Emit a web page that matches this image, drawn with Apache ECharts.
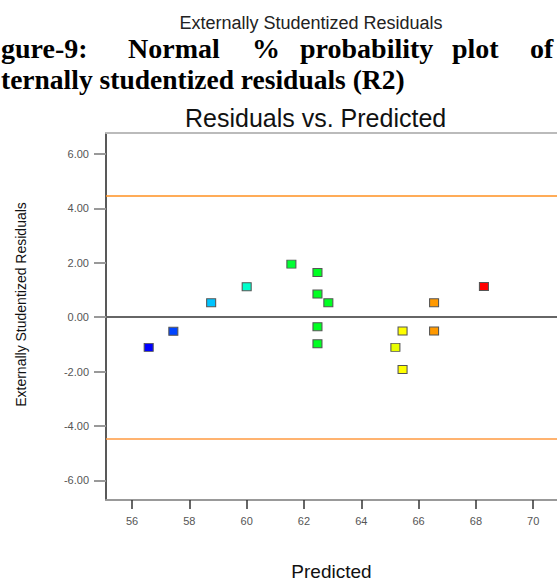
<!DOCTYPE html>
<html>
<head>
<meta charset="utf-8">
<script src="https://cdn.jsdelivr.net/npm/echarts@6/dist/echarts.min.js"></script>
<style>html,body{margin:0;padding:0;background:#fff}#c{width:557px;height:586px}</style>
</head>
<body>
<div id="c"></div>
<script>
// ---- data ----
var predicted = [56.58, 57.44, 58.76, 60.00, 61.56, 62.47, 62.47, 62.85, 62.47, 62.47, 65.44, 65.19, 65.44, 66.54, 66.54, 68.28];
var residuals = [-1.11, -0.52, 0.53, 1.12, 1.95, 1.64, 0.85, 0.53, -0.35, -0.98, -0.51, -1.11, -1.92, 0.53, -0.51, 1.13];
var pointColors = ['#0000ff', '#0044ff', '#00c4ff', '#00ffcc', '#00ff33', '#00ff22', '#00ff22', '#00ff22', '#00ff22', '#00ff22', '#ffff00', '#e8ff00', '#ffff00', '#ff9900', '#ff9900', '#ff0000'];
var xTicks = [56, 58, 60, 62, 64, 66, 68, 70];
var yTicks = [-6, -4, -2, 0, 2, 4, 6];
var limitHigh = 4.46;
var limitLow = -4.46;

var chart = echarts.init(document.getElementById('c'), null, {renderer: 'svg'});
var pts = predicted.map(function (x, i) {
  return {value: [x, residuals[i]], itemStyle: {color: pointColors[i]}};
});
var serifBold = 'bold 28px "Liberation Serif"';

var option = {
  animation: false,
  backgroundColor: '#fff',
  title: {
    text: 'Residuals vs. Predicted',
    left: 180, top: 100,
    textStyle: {fontFamily: 'Liberation Sans', fontSize: 25, fontWeight: 'normal', color: '#111'}
  },
  graphic: [
    {type: 'text', x: 311, y: 23, style: {text: 'Externally Studentized Residuals', align: 'center', verticalAlign: 'middle', font: '18px "Liberation Sans"', fill: '#222'}},
    {type: 'text', x: 1, y: 48, style: {text: 'gure-9:', align: 'left', verticalAlign: 'middle', font: serifBold, fill: '#000'}},
    {type: 'text', x: 128, y: 48, style: {text: 'Normal', align: 'left', verticalAlign: 'middle', font: serifBold, fill: '#000'}},
    {type: 'text', x: 252, y: 48, style: {text: '%', align: 'left', verticalAlign: 'middle', font: serifBold, fill: '#000'}},
    {type: 'text', x: 300, y: 48, style: {text: 'probability', align: 'left', verticalAlign: 'middle', font: serifBold, fill: '#000'}},
    {type: 'text', x: 452, y: 48, style: {text: 'plot', align: 'left', verticalAlign: 'middle', font: serifBold, fill: '#000'}},
    {type: 'text', x: 530, y: 48, style: {text: 'of', align: 'left', verticalAlign: 'middle', font: serifBold, fill: '#000'}},
    {type: 'text', x: 1, y: 79, style: {text: 'ternally studentized residuals (R2)', align: 'left', verticalAlign: 'middle', font: 'bold 27.5px "Liberation Serif"', fill: '#000'}}
  ],
  grid: {left: 106, right: 0, top: 133, bottom: 80},
  xAxis: [{
    type: 'value', min: 55.09, max: 70.83,
    name: 'Predicted', nameLocation: 'middle', nameGap: 62,
    nameTextStyle: {fontFamily: 'Liberation Sans', fontSize: 19, color: '#111'},
    axisLine: {onZero: false, lineStyle: {color: '#999', width: 2}},
    axisTick: {length: 9, customValues: xTicks, lineStyle: {color: '#333', width: 1.5}},
    axisLabel: {customValues: xTicks, margin: 15, fontFamily: 'Liberation Sans', fontSize: 11, color: '#555'},
    splitLine: {show: false}
  }, {
    type: 'value', min: 55.09, max: 70.83, position: 'top',
    axisLine: {show: true, onZero: false, lineStyle: {color: '#bbb', width: 2}},
    axisTick: {show: false}, axisLabel: {show: false}, splitLine: {show: false}
  }],
  yAxis: {
    type: 'value', min: -6.72, max: 6.77,
    name: 'Externally Studentized Residuals', nameLocation: 'middle', nameGap: 78,
    nameTextStyle: {fontFamily: 'Liberation Sans', fontSize: 14, color: '#111', padding: [0, 0, 0, 24]},
    axisLine: {show: true, onZero: false, lineStyle: {color: '#222', width: 1.5}},
    axisTick: {length: 12, customValues: yTicks, lineStyle: {color: '#999', width: 2}},
    axisLabel: {customValues: yTicks, margin: 17, fontFamily: 'Liberation Sans', fontSize: 11, color: '#555',
      formatter: function (v) { return v.toFixed(2); }},
    splitLine: {show: false}
  },
  series: [{
    type: 'scatter',
    symbol: 'rect', symbolSize: [9, 8],
    itemStyle: {borderColor: '#555', borderWidth: 1, opacity: 1},
    data: pts,
    markLine: {
      silent: true, symbol: 'none', label: {show: false},
      data: [
        {yAxis: limitHigh, lineStyle: {color: '#ff9020', width: 1.5, type: 'solid'}},
        {yAxis: limitLow, lineStyle: {color: '#ff9a40', width: 1.5, type: 'solid'}},
        {yAxis: 0, lineStyle: {color: '#666', width: 2, type: 'solid'}}
      ]
    },
    z: 5
  }]
};
chart.setOption(option);
</script>
</body>
</html>
